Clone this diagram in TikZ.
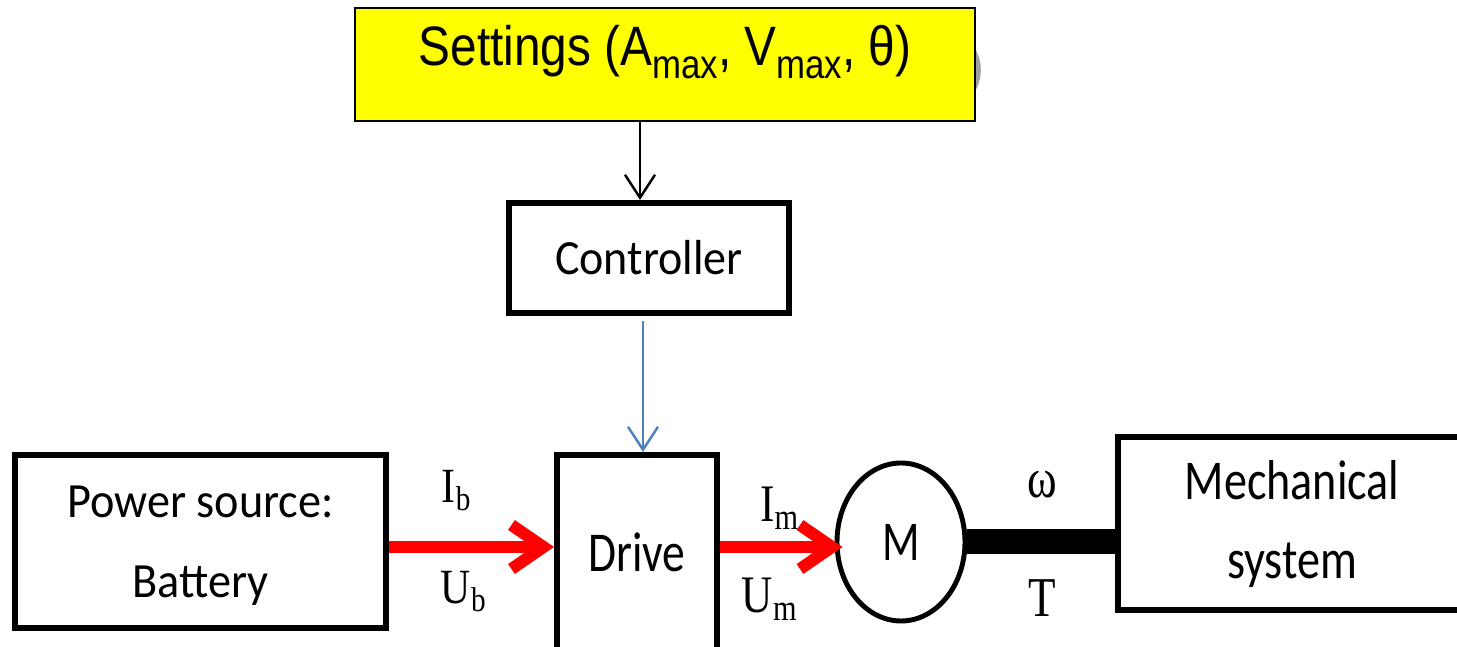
\documentclass[tikz,border=0pt]{standalone}
\usepackage{fontspec}
\setmainfont{Liberation Serif}
\newfontfamily\arialf{Liberation Sans}
\newfontfamily\calibrif{Carlito}
\usetikzlibrary{arrows.meta,shapes.geometric}
\definecolor{setyellow}{RGB}{255,255,0}
\definecolor{flowred}{RGB}{255,0,0}
\definecolor{ctrlblue}{RGB}{79,129,189}
\newcommand\mysub[1]{\raisebox{-0.13cm}{\fontsize{11.5}{12}\selectfont #1}}
\newcommand\sq[2]{\scalebox{#1}[1]{#2}}
\begin{document}
\begin{tikzpicture}[
  blockbox/.style={draw=black, line width=1.7pt, fill=white, inner sep=0pt, align=center},
  redflow/.style={draw=flowred, line width=3.4pt, -{Straight Barb[length=3.2mm,width=4.4mm]}},
  sigarrow/.style={line width=0.7pt, -{Straight Barb[length=2.3mm,width=3mm]}},
  varlabel/.style={inner sep=0pt, anchor=base}
]
\useasboundingbox (0,0) rectangle (14.57,-6.47);
\clip (0,0) rectangle (14.57,-6.47);

% grey remnant partly hidden behind the settings box
\draw[gray, line width=1.6pt, opacity=0.75] (9.38,-0.70) ++(-40:0.40) arc[start angle=-40, end angle=40, radius=0.40];

% blocks
\node[draw=black, line width=0.6pt, fill=setyellow, minimum width=6.2cm, inner sep=0pt,
  text height=0.575cm, text depth=0.555cm, font=\arialf\fontsize{15.8}{18}\selectfont]
  (settings) at (6.65,-0.645) {\sq{0.86}{Settings (A\mysub{max}, V\mysub{max}, θ)}};
\node[blockbox, minimum width=2.8cm, minimum height=1.1cm, font=\calibrif\fontsize{14}{16}\selectfont]
  (ctrl) at (6.49,-2.58) {\sq{0.935}{Controller}};
\node[blockbox, minimum width=1.6cm, text height=1.17cm, text depth=1.08cm, font=\calibrif\fontsize{16}{18}\selectfont]
  (drive) at (6.37,-5.675) {\sq{0.81}{Drive}};
\node[blockbox, minimum width=3.71cm, minimum height=1.73cm, font=\calibrif\fontsize{14}{22.8}\selectfont]
  (power) at (2.005,-5.415) {\raisebox{-0.06cm}{\begin{tabular}{@{}c@{}}\sq{0.94}{Power source:}\\\sq{0.94}{Battery}\end{tabular}}};
\node[draw=black, ellipse, line width=1.4pt, minimum width=1.28cm, minimum height=1.58cm, inner sep=0pt,
  font=\calibrif\fontsize{16}{18}\selectfont] (motor) at (9.01,-5.42) {\sq{0.78}{M}};
\node[blockbox, minimum width=3.48cm, minimum height=1.73cm, font=\calibrif\fontsize{16}{22.5}\selectfont]
  (mech) at (12.92,-5.235) {\raisebox{-0.04cm}{\begin{tabular}{@{}c@{}}\sq{0.82}{Mechanical}\\\sq{0.82}{system}\end{tabular}}};

% helper coordinates
\coordinate (ax) at (6.40,0);
\coordinate (bx) at (6.43,0);
\coordinate (ry) at (0,-5.47);

% connectors
\draw[sigarrow] (settings.south -| ax) -- (ctrl.north -| ax);
\draw[sigarrow, ctrlblue] ([yshift=-0.05cm]ctrl.south -| bx) -- (drive.north -| bx);
\draw[redflow] (power.east |- ry) -- (drive.west |- ry);
\draw[redflow] (drive.east |- ry) -- ([xshift=0.08cm]motor.west |- ry);
\draw[line width=0.25cm] (motor.east) -- (motor.east -| mech.west);

% labels
\node[varlabel, font=\fontsize{14}{16}\selectfont] (ib) at (4.57,-5.03) {\sq{0.85}{I\textsubscript{b}}};
\node[varlabel, font=\fontsize{14}{16}\selectfont] (ub) at (4.64,-6.04) {\sq{0.85}{U\textsubscript{b}}};
\node[varlabel, font=\fontsize{15}{17}\selectfont] (im) at (7.80,-5.22) {\sq{0.82}{I\textsubscript{m}}};
\node[varlabel, font=\fontsize{15}{17}\selectfont] (um) at (7.70,-6.13) {\sq{0.82}{U\textsubscript{m}}};
\node[varlabel, font=\fontsize{16}{18}\selectfont] (om) at (10.42,-4.98) {\sq{0.8}{ω}};
\node[varlabel, font=\fontsize{16}{18}\selectfont] (tq) at (10.42,-6.17) {\sq{0.8}{T}};
\end{tikzpicture}
\end{document}
